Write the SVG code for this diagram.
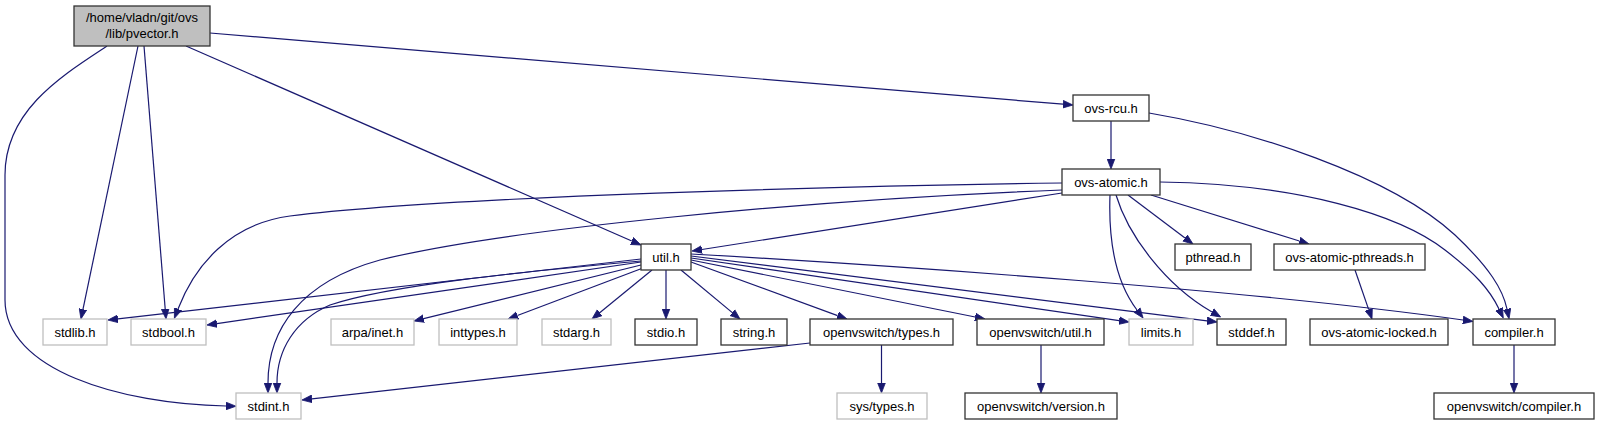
<svg xmlns="http://www.w3.org/2000/svg" width="1599" height="425" viewBox="0 0 1599 425">
<style>
.n rect{fill:#fff;stroke:#333;stroke-width:1.3}
.g rect{fill:#fff;stroke:#bfbfbf;stroke-width:1.3}
.m rect{fill:#bfbfbf;stroke:#333;stroke-width:1.3}
text{font-family:"Liberation Sans",Arial,sans-serif;font-size:13px;fill:#000;text-anchor:middle}
.e path{fill:none;stroke:#191970;stroke-width:1.2;marker-end:url(#arr)}
</style>
<defs>
<marker id="arr" markerWidth="11" markerHeight="9" refX="0" refY="4.5" orient="auto" markerUnits="userSpaceOnUse" viewBox="0 0 11 9">
<path d="M0,0.7 L10,4.5 L0,8.3 z" fill="#191970" stroke="#191970" stroke-width="0.8"/>
</marker>
</defs>
<rect width="1599" height="425" fill="#fff"/>
<g class="e" id="edges">
<path d="M210,33 L1063,104.2"/>
<path d="M107,46 C63,75 5,110 5,175 L5,300 C5,370 120,404 226,406"/>
<path d="M138,46 L83,309.2"/>
<path d="M144,46 L165.2,309"/>
<path d="M186,46 L631.8,241"/>
<path d="M1111,121 L1111,159"/>
<path d="M1149,113 C1250,130 1390,175 1455,235 C1490,268 1503,290 1507,309"/>
<path d="M1062,183 C850,186 450,196 290,216 C230,224 195,265 178,309"/>
<path d="M1062,190 C800,200 500,230 380,260 C300,282 268,330 268,383"/>
<path d="M1062,193 L701.9,249.5"/>
<path d="M1110,195 C1108,250 1118,285 1137,310"/>
<path d="M1116,195 C1128,235 1165,285 1212,312"/>
<path d="M1128,195 L1185,238"/>
<path d="M1151,195 L1299.4,241"/>
<path d="M1160,182 C1300,184 1400,215 1445,250 C1475,273 1490,290 1499,309"/>
<path d="M1355,270 L1368.7,309.6"/>
<path d="M641,259 L117.9,318.9"/>
<path d="M641,262 L216.9,323.6"/>
<path d="M641,265 L423.7,318.6"/>
<path d="M643,268 L517.4,315.5"/>
<path d="M652,270 L599.7,312.7"/>
<path d="M666,270 L666,309"/>
<path d="M681,270 L732.3,312.6"/>
<path d="M691,262 L837.6,315.6"/>
<path d="M691,260 L975.2,317"/>
<path d="M691,258 L1119.1,320.6"/>
<path d="M691,256 L1207.1,320.8"/>
<path d="M691,254 C900,266 1250,290 1463,320"/>
<path d="M641,261 C520,272 390,285 330,305 C295,320 277,350 277,383"/>
<path d="M810,343 L311.9,398.9"/>
<path d="M881.5,345 L881.5,383"/>
<path d="M1041,345 L1041,383"/>
<path d="M1514,345 L1514,383"/>
</g>
<g id="pvector" class="m"><rect x="74" y="6" width="136" height="40"/><text x="142" y="22">/home/vladn/git/ovs</text><text x="142" y="38">/lib/pvector.h</text></g>
<g id="ovs-rcu" class="n"><rect x="1073" y="95" width="76" height="26"/><text x="1111" y="112.5">ovs-rcu.h</text></g>
<g id="ovs-atomic" class="n"><rect x="1062" y="169" width="98" height="26"/><text x="1111" y="186.5">ovs-atomic.h</text></g>
<g id="util" class="n"><rect x="641" y="244" width="50" height="26"/><text x="666" y="261.5">util.h</text></g>
<g id="pthread" class="n"><rect x="1175" y="244" width="76" height="26"/><text x="1213" y="261.5">pthread.h</text></g>
<g id="ovs-atomic-pthreads" class="n"><rect x="1274" y="244" width="151" height="26"/><text x="1349.5" y="261.5">ovs-atomic-pthreads.h</text></g>
<g id="stdlib" class="g"><rect x="43" y="319" width="64" height="26"/><text x="75" y="336.5">stdlib.h</text></g>
<g id="stdbool" class="g"><rect x="131" y="319" width="75" height="26"/><text x="168.5" y="336.5">stdbool.h</text></g>
<g id="arpa-inet" class="g"><rect x="331" y="319" width="83" height="26"/><text x="372.5" y="336.5">arpa/inet.h</text></g>
<g id="inttypes" class="g"><rect x="439" y="319" width="78" height="26"/><text x="478" y="336.5">inttypes.h</text></g>
<g id="stdarg" class="g"><rect x="542" y="319" width="69" height="26"/><text x="576.5" y="336.5">stdarg.h</text></g>
<g id="stdio" class="n"><rect x="635" y="319" width="62" height="26"/><text x="666" y="336.5">stdio.h</text></g>
<g id="string" class="n"><rect x="721" y="319" width="66" height="26"/><text x="754" y="336.5">string.h</text></g>
<g id="ovs-types" class="n"><rect x="810" y="319" width="143" height="26"/><text x="881.5" y="336.5">openvswitch/types.h</text></g>
<g id="ovs-util" class="n"><rect x="977" y="319" width="127" height="26"/><text x="1040.5" y="336.5">openvswitch/util.h</text></g>
<g id="limits" class="g"><rect x="1129" y="319" width="64" height="26"/><text x="1161" y="336.5">limits.h</text></g>
<g id="stddef" class="n"><rect x="1217" y="319" width="69" height="26"/><text x="1251.5" y="336.5">stddef.h</text></g>
<g id="ovs-atomic-locked" class="n"><rect x="1310" y="319" width="138" height="26"/><text x="1379" y="336.5">ovs-atomic-locked.h</text></g>
<g id="compiler" class="n"><rect x="1473" y="319" width="82" height="26"/><text x="1514" y="336.5">compiler.h</text></g>
<g id="stdint" class="g"><rect x="236" y="393" width="65" height="26"/><text x="268.5" y="410.5">stdint.h</text></g>
<g id="sys-types" class="g"><rect x="837" y="393" width="90" height="26"/><text x="882" y="410.5">sys/types.h</text></g>
<g id="ovs-version" class="n"><rect x="965" y="393" width="152" height="26"/><text x="1041" y="410.5">openvswitch/version.h</text></g>
<g id="ovs-compiler" class="n"><rect x="1434" y="393" width="160" height="26"/><text x="1514" y="410.5">openvswitch/compiler.h</text></g>
</svg>
